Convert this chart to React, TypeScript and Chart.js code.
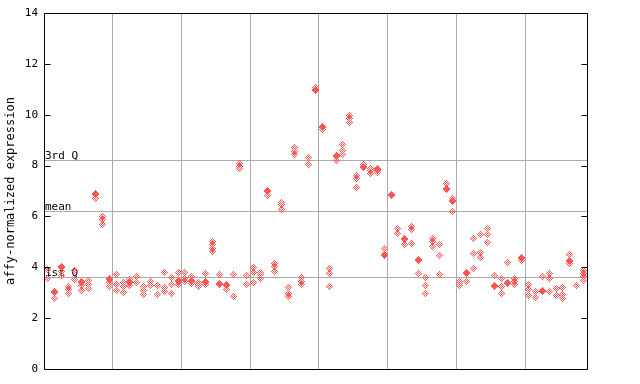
import React, { useEffect, useRef } from "react";
import { Chart, registerables } from "chart.js";

Chart.register(...registerables);

// One entry per sample (79 samples, left to right); each holds the replicate values.
const replicateValues: number[][] = [
  [3.92, 3.57],
  [3.0, 3.04, 2.78],
  [4.0, 4.04, 3.83, 3.66],
  [3.26, 3.13, 2.98],
  [3.87, 3.53],
  [3.41, 3.45, 3.29, 3.07],
  [3.5, 3.34, 3.17],
  [6.87, 6.91, 6.71],
  [5.99, 5.86, 5.7],
  [3.53, 3.57, 3.39, 3.24],
  [3.72, 3.33, 3.1],
  [3.41, 3.24, 3.02],
  [3.53, 3.45, 3.41, 3.29],
  [3.64, 3.42],
  [3.24, 3.1, 2.94],
  [3.43, 3.29],
  [3.29, 2.94],
  [3.8, 3.22, 3.03],
  [3.6, 3.33, 2.98],
  [3.8, 3.47, 3.43, 3.33],
  [3.8, 3.57, 3.45],
  [3.63, 3.47, 3.43, 3.37],
  [3.41, 3.34, 3.26],
  [3.76, 3.43, 3.39, 3.32],
  [5.03, 4.88, 4.75, 4.64],
  [3.72, 3.36, 3.32],
  [3.34, 3.3, 3.13],
  [3.72, 2.87],
  [8.09, 7.98, 7.89],
  [3.66, 3.33],
  [4.0, 3.8, 3.41],
  [3.8, 3.7, 3.55],
  [7.03, 6.99, 6.82],
  [4.16, 4.05, 3.84],
  [6.54, 6.45, 6.28],
  [3.21, 2.98, 2.87],
  [8.7, 8.55, 8.42],
  [3.59, 3.46, 3.33],
  [8.32, 8.05],
  [11.08, 10.99, 10.95],
  [9.55, 9.51, 9.42],
  [3.96, 3.76, 3.25],
  [8.41, 8.37, 8.21],
  [8.81, 8.61, 8.44],
  [9.95, 9.84, 9.7],
  [7.59, 7.51, 7.14],
  [8.05, 7.98, 7.94],
  [7.89, 7.79, 7.67],
  [7.89, 7.85, 7.81, 7.72],
  [4.72, 4.52, 4.48],
  [6.87, 6.84, 6.81],
  [5.53, 5.34],
  [5.13, 5.09, 4.9],
  [5.6, 5.5, 4.94],
  [4.32, 4.28, 3.76],
  [3.61, 3.29, 2.98],
  [5.14, 5.03, 4.81],
  [4.9, 4.47, 3.72],
  [7.3, 7.09, 7.05],
  [6.71, 6.64, 6.6, 6.2],
  [3.46, 3.37, 3.28],
  [3.81, 3.77, 3.46],
  [5.14, 4.55, 3.96],
  [5.27, 4.59, 4.39],
  [5.53, 5.27, 4.98],
  [3.68, 3.28, 3.24],
  [3.57, 3.25, 2.98],
  [4.2, 3.41, 3.37],
  [3.57, 3.45, 3.33],
  [4.4, 4.36, 4.26],
  [3.33, 3.13, 2.9],
  [3.06, 2.82],
  [3.64, 3.08, 3.04],
  [3.76, 3.55, 3.06],
  [3.17, 2.9],
  [3.21, 2.94, 2.78],
  [4.51, 4.25, 4.21, 4.13],
  [3.29],
  [3.87, 3.76, 3.63, 3.49],
];

const yTickValues = [0, 2, 4, 6, 8, 10, 12, 14];
const groupBoundaries = [10, 20, 30, 40, 50, 60, 70];
const refLabels = ["3rd Q", "mean", "1st Q"];
const refValues = [8.21, 6.2, 3.6];
const yTitle = "affy-normalized expression";

const pointColor = "#ff5555";
const gridColor = "#aaaaaa";
const monoFamily = "'DejaVu Sans Mono', monospace";

function makeDiamond(color: string): HTMLCanvasElement {
  const c = document.createElement("canvas");
  c.width = 7;
  c.height = 7;
  const g = c.getContext("2d")!;
  g.fillStyle = color;
  for (let y = 0; y < 7; y++) {
    for (let x = 0; x < 7; x++) {
      if (Math.abs(x - 3) + Math.abs(y - 3) <= 3 && (x + y) % 2 === 1) {
        g.fillRect(x, y, 1, 1);
      }
    }
  }
  return c;
}

export default function App() {
  const canvasRef = useRef<HTMLCanvasElement>(null);

  useEffect(() => {
    const canvas = canvasRef.current;
    if (!canvas) return;
    const diamond = makeDiamond(pointColor);
    const points = replicateValues.flatMap((vals, i) =>
      vals.map((v) => ({ x: i + 0.5, y: v }))
    );

    const overlayPlugin = {
      id: "overlay",
      beforeDatasetsDraw(chart: any) {
        const { ctx, chartArea } = chart;
        const ys = chart.scales.y;
        ctx.save();
        ctx.strokeStyle = gridColor;
        ctx.lineWidth = 1;
        ctx.font = `11px ${monoFamily}`;
        ctx.fillStyle = "#000";
        ctx.textAlign = "left";
        ctx.textBaseline = "alphabetic";
        refValues.forEach((v, k) => {
          const py = Math.round(ys.getPixelForValue(v)) + 0.5;
          ctx.beginPath();
          ctx.moveTo(chartArea.left, py);
          ctx.lineTo(chartArea.right, py);
          ctx.stroke();
          ctx.fillText(refLabels[k], chartArea.left + 1, py - 1.5);
        });
        ctx.restore();
        ctx.imageSmoothingEnabled = false;
      },
      afterDraw(chart: any) {
        const { ctx, chartArea } = chart;
        const ys = chart.scales.y;
        const l = Math.round(chartArea.left) + 0.5;
        const r = Math.round(chartArea.right) + 0.5;
        const t = Math.round(chartArea.top) + 0.5;
        const b = Math.round(chartArea.bottom) + 0.5;
        ctx.save();
        ctx.strokeStyle = "#000";
        ctx.lineWidth = 1;
        ctx.beginPath();
        ctx.rect(l, t, r - l, b - t);
        ctx.stroke();
        ctx.beginPath();
        yTickValues.forEach((v) => {
          const py = Math.round(ys.getPixelForValue(v)) + 0.5;
          ctx.moveTo(l, py);
          ctx.lineTo(l + 6, py);
          ctx.moveTo(r, py);
          ctx.lineTo(r - 6, py);
        });
        ctx.stroke();
        ctx.restore();
      },
    };

    const chart = new Chart(canvas, {
      type: "scatter",
      data: {
        datasets: [
          {
            data: points,
            pointStyle: diamond as any,
            pointRadius: 3.5,
            pointHoverRadius: 3.5,
            backgroundColor: pointColor,
            borderColor: pointColor,
          },
        ],
      },
      options: {
        animation: false,
        responsive: false,
        devicePixelRatio: 1,
        layout: { padding: { top: 13, right: 53, bottom: 15, left: 0 } },
        plugins: {
          legend: { display: false },
          tooltip: { enabled: false },
        },
        scales: {
          x: {
            type: "linear",
            min: 0,
            max: replicateValues.length,
            afterBuildTicks: (s: any) => {
              s.ticks = groupBoundaries.map((v) => ({ value: v }));
            },
            afterFit: (s: any) => {
              s.height = 0;
            },
            ticks: { display: false },
            grid: { color: gridColor, lineWidth: 1, drawTicks: false },
            border: { display: false },
          },
          y: {
            type: "linear",
            min: 0,
            max: 14,
            afterBuildTicks: (s: any) => {
              s.ticks = yTickValues.map((v) => ({ value: v }));
            },
            afterFit: (s: any) => {
              s.width = 44;
            },
            ticks: {
              font: { family: monoFamily, size: 11 },
              color: "#000",
              padding: 6,
            },
            grid: { display: false, drawTicks: false },
            border: { display: false },
            title: {
              display: true,
              text: yTitle,
              color: "#000",
              font: { family: monoFamily, size: 12 },
              padding: { top: 4, bottom: 0 },
            },
          },
        },
      },
      plugins: [overlayPlugin],
    });

    return () => chart.destroy();
  }, []);

  return (
    <div
      style={{
        position: "fixed",
        left: 0,
        top: 0,
        width: 640,
        height: 384,
        background: "#fff",
      }}
    >
      <canvas ref={canvasRef} width={640} height={384} />
    </div>
  );
}
